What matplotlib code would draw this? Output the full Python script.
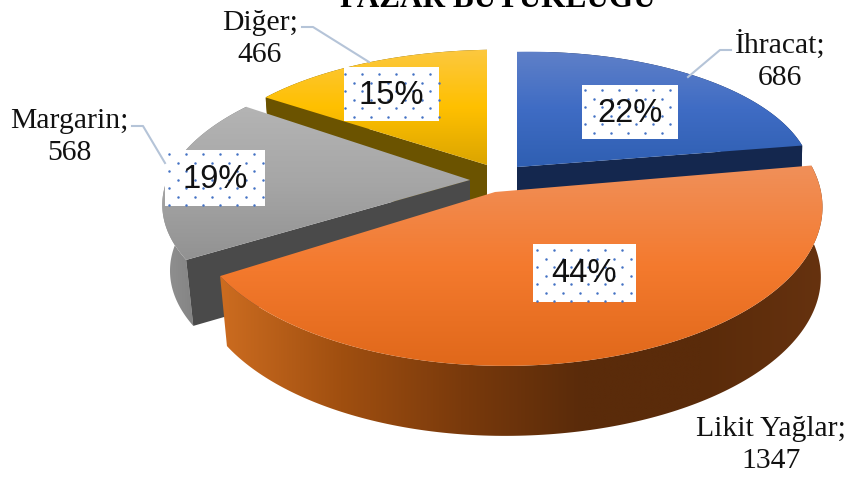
import numpy as np
import matplotlib
matplotlib.use("Agg")
import matplotlib.pyplot as plt
from matplotlib.colors import LinearSegmentedColormap
from matplotlib.patches import Polygon, Rectangle

categories = ["İhracat", "Likit Yağlar", "Margarin", "Diğer"]
values = [686, 1347, 568, 466]
percent_labels = ["22%", "44%", "19%", "15%"]
title = "PAZAR BÜYÜKLÜĞÜ"

# slice geometry in pixels: tip of the wedge, radii and perspective
tip_x = [517, 495, 470, 487]
tip_y = [167, 192, 180, 165]
radius_x = [284, 315, 314, 297]
radius_y = [128, 158, 145, 128]
persp = [0.10, 0.10, 0.17, 0.10]
depth = [66, 70, 66, 66]
# which end of the arc has a cut face showing (None: hidden)
cut_end = [-1, None, 0, 0]
BOTTOM_SHRINK = 0.975

top_colors = [
    ["#5f80c8", "#3f6cc4", "#2f5fb2"],
    ["#f0905a", "#f47a2e", "#e0681a"],
    ["#b4b4b4", "#a6a6a6", "#929292"],
    ["#fcc840", "#ffc000", "#dba500"],
]
cut_colors = ["#14274e", "#5a2b0a", "#4a4a4a", "#6b5300"]
side_colors = [
    ["#14274e", "#14274e"],
    ["#cc6c20", "#a04f10", "#7a3a0c", "#5a2b0a", "#5a2b0a", "#66320f"],
    ["#929292", "#6a6a6a"],
    ["#6b5300", "#6b5300"],
]

# label boxes: left, top, right, bottom, and where the dot grid starts
box_x0 = [582, 533, 165, 344]
box_y0 = [85, 244, 150, 67]
box_x1 = [678, 636, 265, 439]
box_y1 = [139, 302, 206, 121]
dot_dx = [3, 4, 4, 1]
dot_dy = [5, 6, 4, 7]

label_x = [780, 771, 69, 260]
label_y = [85, 468, 160, 62]
leader_x = [[731, 720, 688], [], [132, 143, 165], [302, 313, 369]]
leader_y = [[50, 50, 77], [], [126, 126, 163], [27, 27, 62]]

draw_order = [3, 0, 2, 1]


def rim_point(i, theta):
    s = 1 - persp[i] * np.cos(theta) + 0.035 * np.sin(theta)
    x = tip_x[i] + radius_x[i] * np.sin(theta) * s
    y = tip_y[i] - radius_y[i] * np.cos(theta) * s
    return x, y


def gradient_fill(ax, pts, colors, vertical, z):
    xy = np.array(pts)
    cmap = LinearSegmentedColormap.from_list("g", colors)
    ramp = np.linspace(0, 1, 256)
    ramp = ramp.reshape(-1, 1) if vertical else ramp.reshape(1, -1)
    x0, x1 = xy[:, 0].min(), xy[:, 0].max()
    y0, y1 = xy[:, 1].min(), xy[:, 1].max()
    im = ax.imshow(ramp, cmap=cmap, extent=(x0, x1, y1, y0), aspect="auto",
                   interpolation="bilinear", zorder=z)
    clip = Polygon(xy, closed=True, transform=ax.transData, fc="none", ec="none")
    ax.add_patch(clip)
    im.set_clip_path(clip)


def draw_slice(ax, i, start, end, z):
    theta = np.linspace(start, end, 160)
    x, y = rim_point(i, theta)
    d = depth[i]
    # on the left the lower rim pulls in towards the middle
    dx = x - tip_x[i]
    xb = tip_x[i] + np.where(dx < 0, dx * BOTTOM_SHRINK, dx * 0.995)
    yb = y + d

    # outer wall
    wall = list(zip(x, y)) + list(zip(xb[::-1], yb[::-1]))
    gradient_fill(ax, wall, side_colors[i], False, z)

    # flat cut face
    j = cut_end[i]
    if j is not None:
        face = [(tip_x[i], tip_y[i]), (x[j], y[j]), (xb[j], yb[j]), (tip_x[i], tip_y[i] + d)]
        ax.add_patch(Polygon(face, fc=cut_colors[i], ec="none", zorder=z + 0.1))

    # top surface
    top = [(tip_x[i], tip_y[i])] + list(zip(x, y))
    gradient_fill(ax, top, top_colors[i], True, z + 0.2)


def draw_percent_box(ax, i):
    x0, y0, x1, y1 = box_x0[i], box_y0[i], box_x1[i], box_y1[i]
    ax.add_patch(Rectangle((x0, y0), x1 - x0, y1 - y0, fc="white", ec="none", zorder=20))
    dx, dy = [], []
    for row, yy in enumerate(np.arange(y0 + dot_dy[i], y1 + 0.5, 8.5)):
        shift = 8.5 if row % 2 else 0
        for xx in np.arange(x0 + dot_dx[i] + shift, x1 + 0.5, 17):
            dx.append(xx)
            dy.append(yy)
    ax.scatter(dx, dy, s=3.2, color="#4472c4", linewidths=0, zorder=21)
    ax.text((x0 + x1) / 2, (y0 + y1) / 2 + 1, percent_labels[i], fontsize=23.5,
            family="Liberation Sans", color="#111111", ha="center", va="center", zorder=22)


def main():
    fig = plt.figure(figsize=(8.51, 4.79), dpi=100)
    ax = fig.add_axes([0, 0, 1, 1])

    # slice angles run clockwise from twelve o'clock
    edges = np.concatenate([[0], np.cumsum(values)]) / sum(values) * 2 * np.pi
    for z, i in enumerate(draw_order):
        draw_slice(ax, i, edges[i], edges[i + 1], 2 + z)

    for i in range(len(categories)):
        draw_percent_box(ax, i)
        ax.text(label_x[i], label_y[i], f"{categories[i]};\n{values[i]}", fontsize=21.3,
                family="Liberation Serif", color="#111111", ha="center", va="baseline",
                linespacing=1.32, zorder=25)
        if leader_x[i]:
            ax.plot(leader_x[i], leader_y[i], color="#b5c4d8", lw=1.5, zorder=24)

    ax.text(498, 7, title, fontsize=22.5, family="Liberation Serif", weight="bold",
            color="black", ha="center", va="baseline", zorder=25)

    ax.set_xlim(0, 851)
    ax.set_ylim(479, 0)
    ax.axis("off")
    fig.savefig("out.png", dpi=100)


if __name__ == "__main__":
    main()
